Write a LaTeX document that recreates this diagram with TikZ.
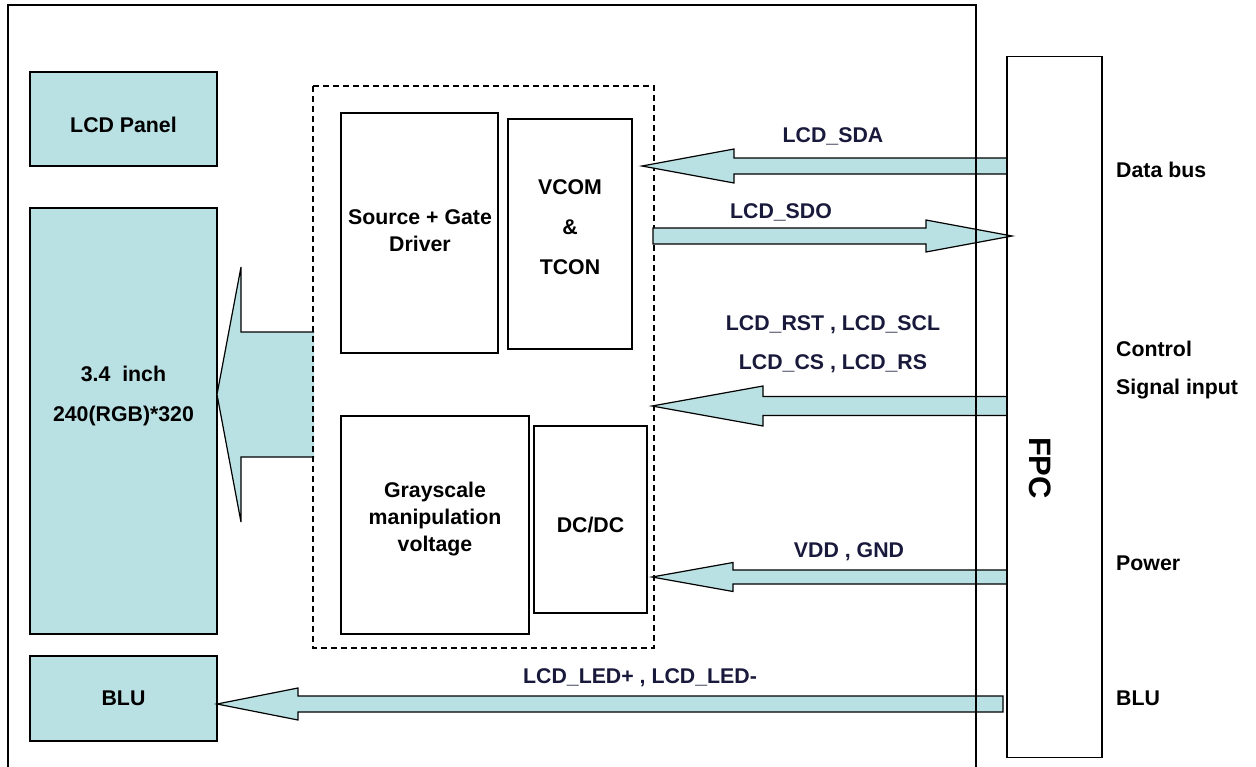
\documentclass[tikz,border=0pt]{standalone}
\usepackage{fontspec}
\setmainfont{Liberation Sans}
\definecolor{panelfill}{RGB}{185,224,227}
\definecolor{lbl}{RGB}{25,25,60}
\newcommand{\blkarrow}[7]{% name, tip x, y, head x, tail x, half head, half shaft
  \coordinate (#1) at (#2,#3);
  \draw[barrow] (#1) -- ({#4},{#3-#6}) -- ({#4},{#3-#7}) -- ({#5},{#3-#7})
     -- ({#5},{#3+#7}) -- ({#4},{#3+#7}) -- ({#4},{#3+#6}) -- cycle;
}
\begin{document}
\begin{tikzpicture}[x=1pt,y=-1pt,
  every node/.style={font=\bfseries\fontsize{21.3}{27}\selectfont, inner sep=0pt, align=center},
  cbox/.style={draw=black, line width=1.3pt, fill=panelfill},
  wbox/.style={draw=black, line width=1.3pt, fill=white},
  barrow/.style={draw=black, line width=1.2pt, fill=panelfill, line join=miter},
  sig/.style={text=lbl},
  side/.style={anchor=west, text=black}
]
\useasboundingbox (0,0) rectangle (1256,766);
% left panel boxes
\node[cbox, minimum width=187, minimum height=94] (panel) at (123.5,119) {};
\node (paneltxt) at (123.5,125) {LCD Panel};
\node[cbox, minimum width=187, minimum height=426] (lcd) at (123.5,421) {};
\node (lcdtxt) at (123.5,396) {3.4\ \ inch\\[13pt]240(RGB)*320};
\node[cbox, minimum width=187, minimum height=85] (blu) at (123.5,698.5) {BLU};

% big arrow into LCD
\coordinate (bigtip) at (217,394.5);
\fill[panelfill] (bigtip) -- (241,267) -- (241,332) -- (314,332) -- (314,457) -- (241,457) -- (241,522) -- cycle;
\draw[line width=1.2pt, line join=miter] (314,332) -- (241,332) -- (241,267) -- (bigtip) -- (241,522) -- (241,457) -- (314,457);

% inner blocks
\node[wbox, minimum width=157, minimum height=240] (src) at (419.5,233) {};
\node (srctxt) at (420,231) {Source + Gate\\Driver};
\node[wbox, minimum width=124, minimum height=230] (vcom) at (570,234) {};
\node (vcomtxt) at (570,227) {VCOM\\[13pt]\&\\[13pt]TCON};
\node[wbox, minimum width=188, minimum height=218] (gray) at (435,525) {};
\node (graytxt) at (435,519) {Grayscale\\manipulation\\voltage};
\node[wbox, minimum width=113, minimum height=187] (dcdc) at (590.5,519.5) {};
\node (dcdctxt) at (590.5,525) {DC/DC};
\draw[line width=1.1pt, dash pattern=on 6pt off 4pt] (313,86) rectangle (654,648);

% signal arrows
\blkarrow{sda}{642}{166}{734}{1007}{17}{8}
\blkarrow{ctl}{652}{406}{763}{1007}{20}{9.5}
\blkarrow{pwr}{652}{577}{733}{1007}{14.5}{7}
\blkarrow{led}{217}{704}{298}{1003}{16}{8}
\blkarrow{sdo}{1012}{236}{926}{653}{16}{8}

% outer frame and FPC
\draw[line width=1.3pt] (8,770) -- (8,5) -- (976,5) -- (976,770);
\node[draw=black, line width=1.3pt, minimum width=95, minimum height=701, fill=none] (fpc) at (1054.5,407) {};
\node[rotate=-90, font=\bfseries\fontsize{31}{31}\selectfont] (fpclbl) at (1040,468) {FPC};

% signal labels
\node[sig] (lsda) at (833,136) {LCD\_SDA};
\node[sig] (lsdo) at (781,212) {LCD\_SDO};
\node[sig] (lrst) at (833,325) {LCD\_RST , LCD\_SCL};
\node[sig] (lcs) at (833,364) {LCD\_CS , LCD\_RS};
\node[sig] (lvdd) at (849,552) {VDD , GND};
\node[sig] (lled) at (640,678) {LCD\_LED+ , LCD\_LED-};

% side labels
\node[side] (sdata) at (1116,170) {Data bus};
\node[side] (sctl) at (1116,349) {Control};
\node[side] (ssig) at (1116,389) {Signal input};
\node[side] (spow) at (1116,563) {Power};
\node[side] (sblu) at (1116,698) {BLU};
\end{tikzpicture}
\end{document}
